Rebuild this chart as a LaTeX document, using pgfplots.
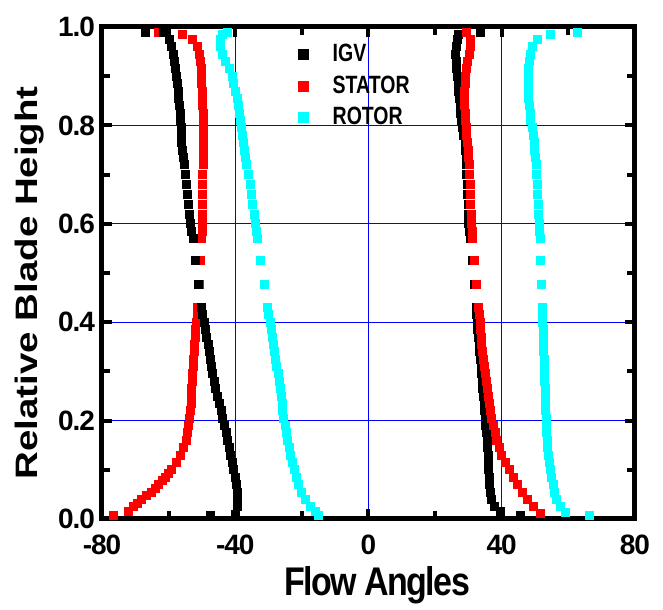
\documentclass[border=0pt]{standalone}
\usepackage{fontspec}
\setmainfont{Liberation Sans}
\usepackage{pgfplots}
\pgfplotsset{compat=1.18}
\definecolor{cyanO}{RGB}{0,255,255}
\definecolor{redO}{RGB}{255,0,0}
\definecolor{gridB}{RGB}{0,0,255}
\begin{document}
\begin{tikzpicture}
\begin{axis}[
 name=ax,
 width=266.5pt, height=246pt, scale only axis,
 xmin=-80, xmax=80, ymin=0, ymax=1,
 xtick={-80,-40,0,40,80}, minor xtick={-60,-20,20,60},
 ytick={0,0.2,0.4,0.6,0.8,1}, minor ytick={0.1,0.3,0.5,0.7,0.9},
 tick align=inside,
 major tick length=5pt, minor tick length=4pt,
 every tick/.style={black, line width=2pt},
 axis line style={line width=2.5pt},
 grid=major, major grid style={gridB, line width=0.6pt},
 /pgf/number format/assume math mode=true,
 yticklabel style={/pgf/number format/.cd, fixed, fixed zerofill, precision=1},
 tick label style={font=\fontsize{14}{16}\selectfont\bfseries\addfontfeatures{LetterSpace=-4}},
 xticklabel style={yshift=-4.5pt},
 xlabel={Flow Angles},
 ylabel={Relative Blade Height},
 xlabel style={at={(axis description cs:0.516,-0.134)}, anchor=center, font=\fontsize{20}{22}\selectfont\bfseries\addfontfeatures{FakeStretch=0.85,LetterSpace=-4}},
 ylabel style={at={(axis description cs:-0.135,0.48)}, anchor=center, font=\fontsize{15.5}{18}\selectfont\bfseries\addfontfeatures{FakeStretch=1.24}},
 clip=false,
 legend style={at={(0.357,0.982)}, anchor=north west, draw=none, fill=none,
   font=\fontsize{12.5}{14}\selectfont\bfseries\addfontfeatures{FakeStretch=0.78}, row sep=1.5pt, column sep=10pt},
 legend cell align=left,
]
\addlegendimage{only marks, mark=square*, mark size=2.5pt, black}
\addlegendentry{IGV}
\addlegendimage{only marks, mark=square*, mark size=2.5pt, redO}
\addlegendentry{STATOR}
\addlegendimage{only marks, mark=square*, mark size=2.5pt, cyanO}
\addlegendentry{ROTOR}

% STATOR left
\addplot[only marks, mark=square*, mark size=2pt, redO, forget plot] table {
x y
-63.0 0.99
-56.0 0.985
-52.8 0.975
-51.4 0.96
-50.9 0.945
-50.6 0.93
-50.3 0.915
-50.2 0.90
-50.1 0.885
-50.0 0.87
-49.9 0.855
-49.8 0.84
-49.7 0.825
-49.6 0.81
-49.6 0.795
-49.5 0.78
-49.5 0.765
-49.6 0.75
-49.6 0.735
-49.7 0.72
-49.8 0.70
-49.8 0.68
-49.9 0.66
-49.9 0.64
-50.0 0.62
-50.0 0.60
-50.0 0.585
-50.1 0.57
-50.5 0.525
-50.7 0.476
-51.3 0.43
-51.5 0.415
-51.7 0.40
-51.9 0.385
-52.0 0.37
-52.2 0.355
-52.3 0.34
-52.5 0.325
-52.6 0.31
-52.8 0.295
-53.0 0.28
-53.1 0.265
-53.2 0.25
-53.3 0.235
-53.5 0.22
-53.7 0.205
-54.0 0.19
-54.3 0.175
-54.8 0.16
-55.5 0.145
-56.4 0.13
-57.7 0.115
-59.3 0.10
-60.1 0.092
-61.0 0.085
-62.0 0.078
-63.0 0.07
-64.0 0.062
-65.2 0.055
-66.7 0.048
-68.2 0.04
-69.5 0.032
-70.6 0.025
-72.0 0.015
-76.6 0.008
};
% IGV left
\addplot[only marks, mark=square*, mark size=2pt, black, forget plot] table {
x y
-67.0 0.99
-61.7 0.99
-59.8 0.975
-59.1 0.96
-58.45 0.945
-58.2 0.93
-57.9 0.915
-57.6 0.90
-57.4 0.885
-57.2 0.87
-57.0 0.855
-56.8 0.84
-56.6 0.825
-56.4 0.81
-56.3 0.795
-56.2 0.78
-56.1 0.765
-55.8 0.75
-55.6 0.735
-55.4 0.72
-55.0 0.70
-54.6 0.68
-54.3 0.66
-54.0 0.64
-53.8 0.62
-53.5 0.60
-53.1 0.585
-52.7 0.57
-52.0 0.525
-51.0 0.476
-50.2 0.43
-49.9 0.415
-49.4 0.40
-49.0 0.385
-48.6 0.37
-48.2 0.355
-47.9 0.34
-47.5 0.325
-47.1 0.31
-46.8 0.295
-46.4 0.28
-45.9 0.265
-45.3 0.25
-44.8 0.235
-44.3 0.22
-43.8 0.205
-43.3 0.19
-42.8 0.175
-42.4 0.16
-41.9 0.145
-41.4 0.13
-41.0 0.115
-40.5 0.10
-40.1 0.085
-39.8 0.07
-39.5 0.055
-39.4 0.04
-39.5 0.025
-40.0 0.01
-47.5 0.008
};
% IGV right
\addplot[only marks, mark=square*, mark size=2pt, black, forget plot] table {
x y
33.5 0.99
27.0 0.985
26.6 0.975
26.3 0.96
26.2 0.945
26.3 0.93
26.5 0.915
26.7 0.90
26.9 0.885
27.1 0.87
27.3 0.855
27.5 0.84
27.7 0.825
28.0 0.81
28.3 0.795
28.6 0.78
29.0 0.765
29.1 0.75
29.3 0.735
29.4 0.72
29.5 0.70
29.7 0.68
29.8 0.66
29.9 0.64
30.0 0.62
30.1 0.60
30.3 0.585
30.5 0.57
31.1 0.525
31.7 0.476
32.3 0.43
32.5 0.415
32.7 0.40
32.8 0.385
33.0 0.37
33.2 0.355
33.4 0.34
33.7 0.325
33.8 0.31
34.0 0.295
34.2 0.28
34.3 0.265
34.5 0.25
34.7 0.235
34.9 0.22
35.0 0.205
35.2 0.19
35.4 0.175
35.6 0.16
35.7 0.145
35.9 0.13
36.0 0.115
36.1 0.10
36.3 0.085
36.4 0.07
36.6 0.055
37.0 0.04
37.8 0.025
39.5 0.015
45.7 0.008
};
% STATOR right
\addplot[only marks, mark=square*, mark size=2pt, redO, forget plot] table {
x y
29.5 0.99
30.6 0.975
30.6 0.96
30.3 0.945
29.8 0.93
29.3 0.915
29.1 0.90
29.0 0.885
28.9 0.87
28.9 0.855
28.9 0.84
29.0 0.825
29.1 0.81
29.3 0.795
29.5 0.78
29.8 0.765
29.9 0.75
30.1 0.735
30.2 0.72
30.3 0.70
30.5 0.68
30.6 0.66
30.7 0.64
30.8 0.62
30.9 0.60
31.1 0.585
31.3 0.57
31.9 0.525
32.5 0.476
33.1 0.43
33.3 0.415
33.5 0.40
33.6 0.385
33.8 0.37
34.0 0.355
34.2 0.34
34.5 0.325
34.8 0.31
35.1 0.295
35.4 0.28
35.7 0.265
36.0 0.25
36.3 0.235
36.6 0.22
37.0 0.205
37.5 0.19
38.0 0.175
38.5 0.16
39.2 0.145
40.0 0.13
41.0 0.115
42.2 0.10
43.4 0.085
44.8 0.07
46.2 0.055
47.6 0.04
49.4 0.025
51.5 0.012
};
% ROTOR left
\addplot[only marks, mark=square*, mark size=2pt, cyanO, forget plot] table {
x y
-42.5 0.99
-44.0 0.985
-44.5 0.975
-44.6 0.96
-43.8 0.945
-42.9 0.93
-41.9 0.915
-41.0 0.90
-40.5 0.885
-39.9 0.87
-39.4 0.855
-39.0 0.84
-38.7 0.825
-38.4 0.81
-38.1 0.795
-37.8 0.78
-37.5 0.765
-37.2 0.75
-36.9 0.735
-36.6 0.72
-36.1 0.70
-35.6 0.68
-35.2 0.66
-34.8 0.64
-34.4 0.62
-34.0 0.60
-33.6 0.585
-33.2 0.57
-32.3 0.525
-31.3 0.476
-30.2 0.43
-29.9 0.415
-29.5 0.40
-29.2 0.385
-28.8 0.37
-28.6 0.355
-28.3 0.34
-28.0 0.325
-27.6 0.31
-27.1 0.295
-26.7 0.28
-26.4 0.265
-26.1 0.25
-25.9 0.235
-25.7 0.22
-25.4 0.205
-25.0 0.19
-24.7 0.175
-24.2 0.16
-23.8 0.145
-23.3 0.13
-22.8 0.115
-22.2 0.10
-21.7 0.085
-20.9 0.07
-20.0 0.055
-19.0 0.04
-17.4 0.025
-16.0 0.015
-15.0 0.008
};
% ROTOR right
\addplot[only marks, mark=square*, mark size=2pt, cyanO, forget plot] table {
x y
62.7 0.99
54.7 0.985
50.8 0.975
49.2 0.96
48.6 0.945
48.2 0.93
48.1 0.915
48.0 0.90
47.9 0.885
48.0 0.87
48.1 0.855
48.3 0.84
48.5 0.825
48.7 0.81
49.1 0.795
49.5 0.78
49.8 0.765
49.9 0.75
50.1 0.735
50.3 0.72
50.5 0.70
50.7 0.68
50.8 0.66
50.9 0.64
51.1 0.62
51.2 0.60
51.4 0.585
51.5 0.57
51.7 0.525
51.9 0.476
52.1 0.43
52.2 0.415
52.3 0.40
52.4 0.385
52.5 0.37
52.6 0.355
52.6 0.34
52.7 0.325
52.8 0.31
52.8 0.295
52.9 0.28
53.0 0.265
53.0 0.25
53.1 0.235
53.2 0.22
53.3 0.205
53.4 0.19
53.5 0.175
53.6 0.16
53.7 0.145
54.0 0.13
54.3 0.115
54.6 0.10
55.0 0.085
55.4 0.07
55.9 0.055
56.5 0.04
57.6 0.025
59.2 0.013
66.3 0.008
};
\end{axis}
\pgfresetboundingbox
\path[use as bounding box] ([xshift=-51pt,yshift=-45.5pt]ax.south west) rectangle ([xshift=14pt,yshift=13.5pt]ax.north east);
\end{tikzpicture}
\end{document}
